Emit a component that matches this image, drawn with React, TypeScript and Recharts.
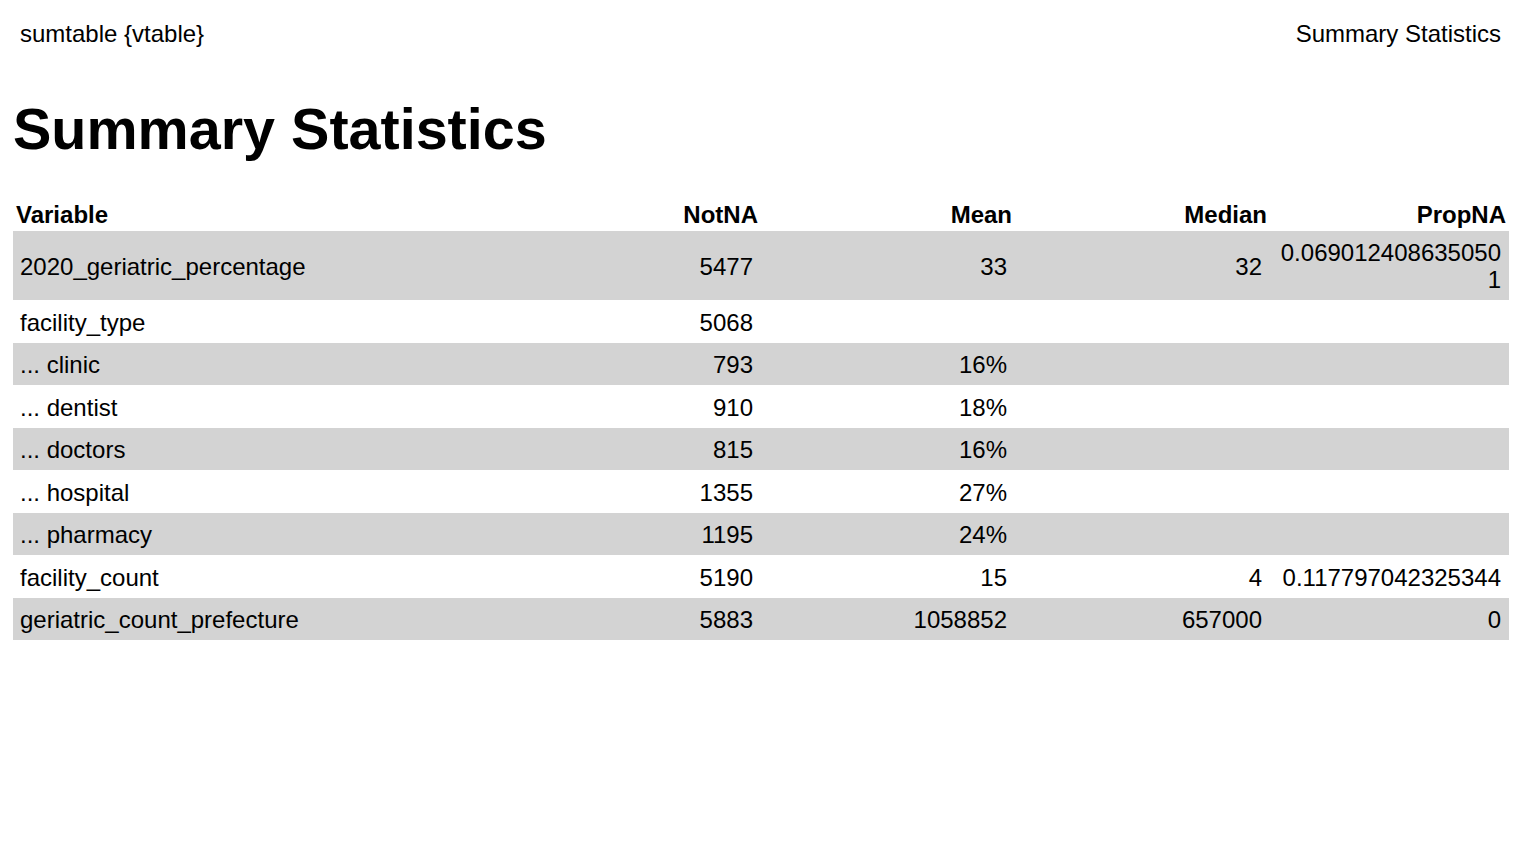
import { ComposedChart, Scatter, ReferenceArea, XAxis, YAxis } from "recharts";

const headers = ["Variable", "NotNA", "Mean", "Median", "PropNA"];
const variables = [
  "2020_geriatric_percentage",
  "facility_type",
  "... clinic",
  "... dentist",
  "... doctors",
  "... hospital",
  "... pharmacy",
  "facility_count",
  "geriatric_count_prefecture",
];
const notNA = ["5477", "5068", "793", "910", "815", "1355", "1195", "5190", "5883"];
const mean = ["33", "", "16%", "18%", "16%", "27%", "24%", "15", "1058852"];
const median = ["32", "", "", "", "", "", "", "4", "657000"];
const propNA = ["0.069012408635050\n1", "", "", "", "", "", "", "0.117797042325344", "0"];

// layout (pixels within the chart)
const W = 1496;
const H = 440;
const rowEdges = [0, 31, 100, 143, 185, 228, 270, 313, 355, 398, 440];
const colText = [7, 740, 994, 1249, 1488];
const colHead = [3, 745, 999, 1254, 1493];

type Cell = { x: number; y: number; text: string; anchor: string; bold: boolean };

const cells: Cell[] = [];
headers.forEach((h, c) =>
  cells.push({ x: colHead[c], y: 14, text: h, anchor: c === 0 ? "start" : "end", bold: true })
);
variables.forEach((v, r) => {
  const y = (rowEdges[r + 1] + rowEdges[r + 2]) / 2;
  const vals = [v, notNA[r], mean[r], median[r], propNA[r]];
  vals.forEach((t, c) => {
    if (t) cells.push({ x: colText[c], y, text: t, anchor: c === 0 ? "start" : "end", bold: false });
  });
});

const TextShape = (props: any) => {
  const { cx, cy, payload } = props;
  const lines: string[] = payload.text.split("\n");
  const lh = 27;
  const y0 = cy - ((lines.length - 1) * lh) / 2;
  return (
    <text
      x={cx}
      y={y0}
      textAnchor={payload.anchor}
      dominantBaseline="central"
      fontSize={24}
      fontWeight={payload.bold ? 700 : 400}
      fill="#000"
      fontFamily="Liberation Sans, Arial, sans-serif"
    >
      {lines.map((l, i) => (
        <tspan key={i} x={cx} dy={i === 0 ? 0 : lh}>
          {l}
        </tspan>
      ))}
    </text>
  );
};

export default function App() {
  const font = "Liberation Sans, Arial, sans-serif";
  return (
    <div style={{ position: "fixed", left: 0, top: 0, width: 1520, height: 844, background: "#fff", fontFamily: font }}>
      <div style={{ position: "absolute", left: 20, top: 20, fontSize: 24 }}>sumtable {"{vtable}"}</div>
      <div style={{ position: "absolute", right: 19, top: 20, fontSize: 24 }}>Summary Statistics</div>
      <div style={{ position: "absolute", left: 13, top: 94, fontSize: 57.5, fontWeight: 700, lineHeight: "70px" }}>
        Summary Statistics
      </div>
      <div style={{ position: "absolute", left: 13, top: 200 }}>
        <ComposedChart width={W} height={H} margin={{ top: 0, right: 0, bottom: 0, left: 0 }} data={cells}>
          <XAxis type="number" dataKey="x" domain={[0, W]} hide />
          <YAxis type="number" dataKey="y" domain={[0, H]} reversed hide />
          {variables.map((_, r) =>
            r % 2 === 0 ? (
              <ReferenceArea
                key={r}
                x1={0}
                x2={W}
                y1={rowEdges[r + 1]}
                y2={rowEdges[r + 2]}
                fill="#d3d3d3"
                fillOpacity={1}
                stroke="none"
              />
            ) : null
          )}
          <Scatter data={cells} dataKey="y" shape={TextShape} isAnimationActive={false} />
        </ComposedChart>
      </div>
    </div>
  );
}
